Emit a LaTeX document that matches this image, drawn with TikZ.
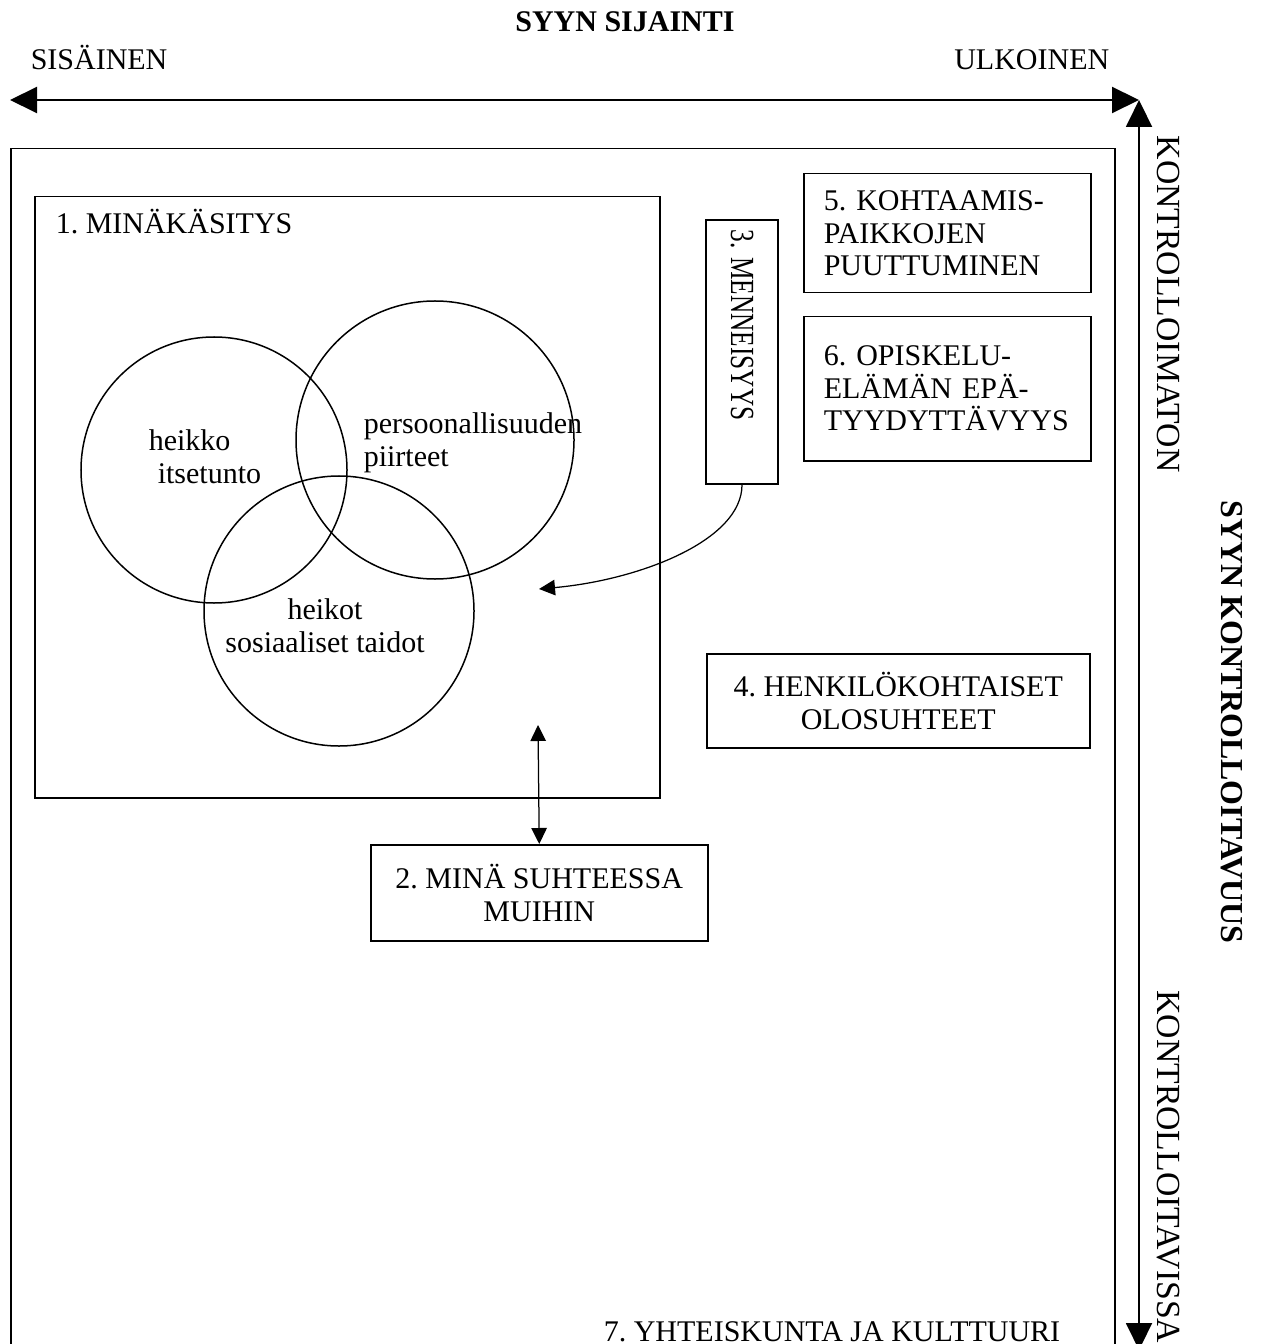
\documentclass[tikz,border=0pt]{standalone}
\usepackage{fontspec}
\setmainfont{Liberation Serif}
\usetikzlibrary{arrows.meta}

\begin{document}
\begin{tikzpicture}[x=0.4pt,y=-0.4pt,line width=0.6pt,
  every node/.style={font=\fontsize{12}{13}\selectfont\frenchspacing,inner sep=0pt},
  side/.style={rotate=-90,font=\fontsize{13.5}{15}\selectfont\frenchspacing},
  box/.style={draw,rectangle,inner sep=0pt},
  ring/.style={draw,circle,inner sep=0pt},
  axis/.style={line width=0.8pt,>={Triangle[length=10.8pt,width=10.4pt]},<->},
  small/.style={line width=0.5pt,>={Triangle[length=6.4pt,width=6.2pt]}}]

  \useasboundingbox (0,0) rectangle (1275,1344);
  \clip (0,0) rectangle (1275,1344);

  % axes
  \node[font=\fontsize{12}{13}\selectfont\bfseries,anchor=base] (title) at (625,32) {SYYN SIJAINTI};
  \node[anchor=base west] (inner) at (30,70) {SISÄINEN};
  \node[anchor=base east] (outer) at (1110,70) {ULKOINEN};
  \coordinate (west) at (10,100);
  \coordinate (corner) at (1139,100);
  \coordinate (south) at (1139,1350);
  \draw[axis] (west) -- (corner);
  \draw[axis] (corner) -- (south);

  \node[side,anchor=west] (uncontrolled) at (1168,135) {KONTROLLOIMATON};
  \node[side,anchor=east] (controlled) at (1168,1344) {KONTROLLOITAVISSA};
  \node[side,font=\fontsize{12.8}{14}\selectfont\bfseries] (control) at (1232,722) {SYYN KONTROLLOITAVUUS};

  % society
  \node[box,anchor=north west,minimum width=441.6pt,minimum height=488.8pt] (society) at (10,148) {};
  \node[anchor=base] (t7) at (832,1341) {7. YHTEISKUNTA JA KULTTUURI};

  % self concept
  \node[box,anchor=north west,minimum width=250pt,minimum height=240.4pt] (self) at (34,196) {};
  \node[anchor=base west] (t1) at (55,234) {1. MINÄKÄSITYS};
  \node[ring,minimum size=106.4pt] (esteem) at (214,470) {};
  \node[ring,minimum size=111.2pt] (traits) at (435,440) {};
  \node[ring,minimum size=108pt] (skills) at (339,611) {};
  \node[anchor=north west,align=left] (testeem) at (148,429) {heikko\\\hspace*{3.6pt}itsetunto};
  \node[anchor=north west,align=left] (ttraits) at (363,412) {persoonallisuuden\\piirteet};
  \node[anchor=north,align=center] (tskills) at (325,598) {heikot\\sosiaaliset taidot};

  % other factors
  \node[box,rotate=-90,minimum width=105.6pt,minimum height=28.8pt,inner xsep=4pt,
    text width=97.6pt,align=left,font=\fontsize{13.5}{15}\selectfont\frenchspacing]
    (past) at (742,352) {\scalebox{0.75}[1]{3. MENNEISYYS}};
  \node[box,anchor=north west,minimum height=47.6pt,inner xsep=8pt,text width=98.8pt,
    align=left] (meeting) at (803,173) {5. KOHTAAMIS-\\PAIKKOJEN\\PUUTTUMINEN};
  \node[box,anchor=north west,minimum height=57.6pt,inner xsep=8pt,text width=98.8pt,
    align=left] (study) at (803,316) {6. OPISKELU-\\ELÄMÄN EPÄ-\\TYYDYTTÄVYYS};
  \node[box,anchor=north west,minimum width=153.2pt,minimum height=37.6pt,
    align=center] (personal) at (706,653) {4. HENKILÖKOHTAISET\\OLOSUHTEET};
  \node[box,anchor=north west,minimum width=134.8pt,minimum height=38.4pt,
    align=center] (others) at (370,844) {2. MINÄ SUHTEESSA\\MUIHIN};

  % connectors
  \coordinate (pastend) at (539,589);
  \coordinate (selfend) at (538,725);
  \draw[small,->] (past.east) .. controls +(0,56) and +(100,-9) .. (pastend);
  \draw[small,<->] (selfend) -- (others.north);
\end{tikzpicture}
\end{document}
